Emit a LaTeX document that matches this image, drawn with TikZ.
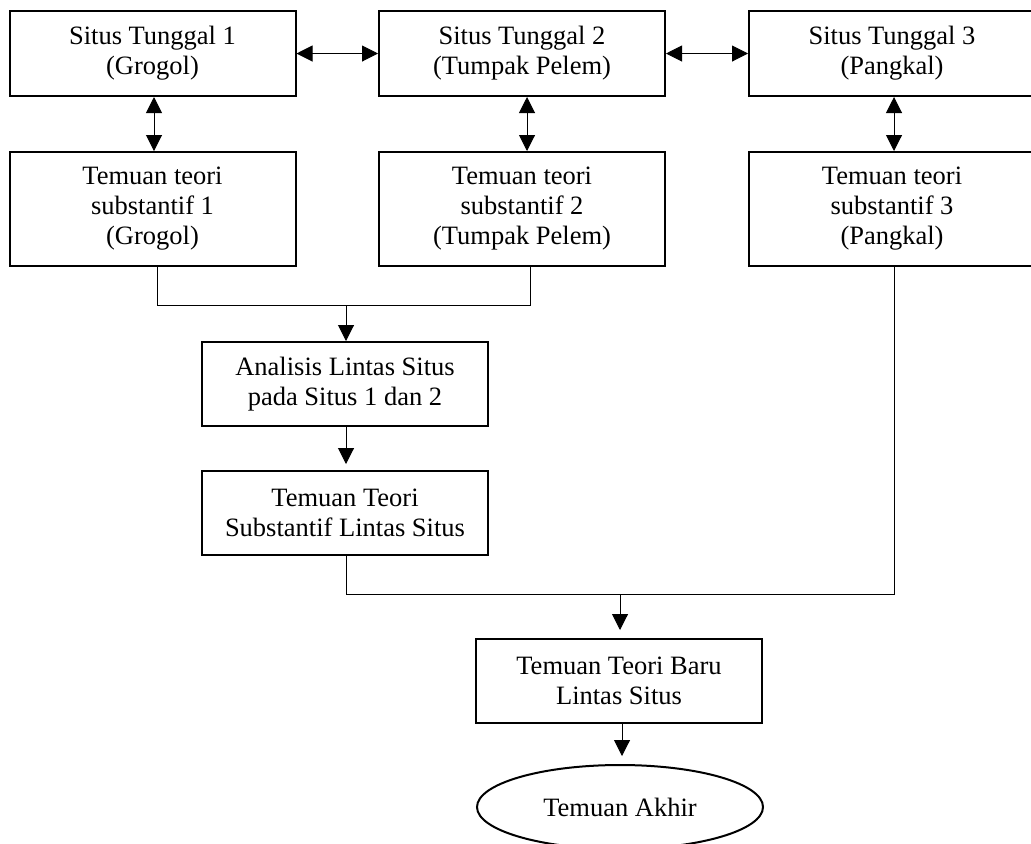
\documentclass[tikz,border=0pt]{standalone}
\usepackage{fontspec}
\setmainfont{Liberation Serif}
\usetikzlibrary{arrows.meta,shapes.geometric}
\begin{document}
\begin{tikzpicture}[x=0.5pt,y=-0.5pt,
  txt/.style={align=center, font=\fontsize{13.25}{15}\selectfont},
  box/.style={txt, draw, line width=1pt, rectangle, inner sep=0pt, minimum width=143pt},
  sbox/.style={box, minimum height=42.5pt},
  tbox/.style={box, minimum height=57pt},
  mbox/.style={box, minimum height=42pt},
  endnode/.style={txt, draw, line width=1pt, ellipse, inner sep=0pt, minimum width=143pt, minimum height=42pt},
  link/.style={line width=0.5pt},
  tip/.tip={Triangle[length=8pt,width=8pt]},
  arr/.style={link, -tip},
  darr/.style={link, tip-tip}]

\useasboundingbox (0,0) rectangle (1031,843);

% single sites
\node[sbox] (s1) at (152.5,53.5) {Situs Tunggal 1\\(Grogol)};
\node[sbox] (s2) at (522,53.5) {Situs Tunggal 2\\(Tumpak Pelem)};
\node[sbox] (s3) at (892,53.5) {Situs Tunggal 3\\(Pangkal)};

% substantive findings per site
\node[tbox] (t1) at (152.5,209) {Temuan teori\\substantif 1\\(Grogol)};
\node[tbox] (t2) at (522,209) {Temuan teori\\substantif 2\\(Tumpak Pelem)};
\node[tbox] (t3) at (892,209) {Temuan teori\\substantif 3\\(Pangkal)};

% cross-site stages
\node[mbox] (an) at (345,384) {Analisis Lintas Situs\\pada Situs 1 dan 2};
\node[mbox] (ls) at (345,513) {Temuan Teori\\Substantif Lintas Situs};
\node[mbox] (baru) at (619,681) {Temuan Teori Baru\\Lintas Situs};
\node[endnode] (akhir) at (620,807) {Temuan Akhir};

% two-way links
\draw[darr] (s1) -- (s2);
\draw[darr] (s2) -- (s3);
\draw[darr] ([xshift=0.75pt]s1.south) -- ([xshift=0.75pt]t1.north);
\draw[darr] ([xshift=2.5pt]s2.south) -- ([xshift=2.5pt]t2.north);
\draw[darr] ([xshift=1pt]s3.south) -- ([xshift=1pt]t3.north);

% merge of sites 1 and 2
\coordinate (c1) at (157,305);
\coordinate (c2) at (530,305);
\coordinate (m12) at (346,305);
\draw[link] (t1.south -| c1) -- (c1) -- (c2) -- (t2.south -| c2);
\draw[arr] (m12) -- (an.north -| m12);
\draw[arr] (an.south -| m12) -- ([yshift=3pt]ls.north -| m12);

% merge with site 3
\coordinate (d1) at (346,594);
\coordinate (d2) at (894,594);
\coordinate (m3) at (620,594);
\draw[link] (ls.south -| d1) -- (d1) -- (d2) -- (t3.south -| d2);
\draw[arr] (m3) -- ([yshift=4pt]baru.north -| m3);
\draw[arr] (baru.south -| 622,0) -- ([yshift=4pt]akhir.north -| 622,0);
\end{tikzpicture}
\end{document}
